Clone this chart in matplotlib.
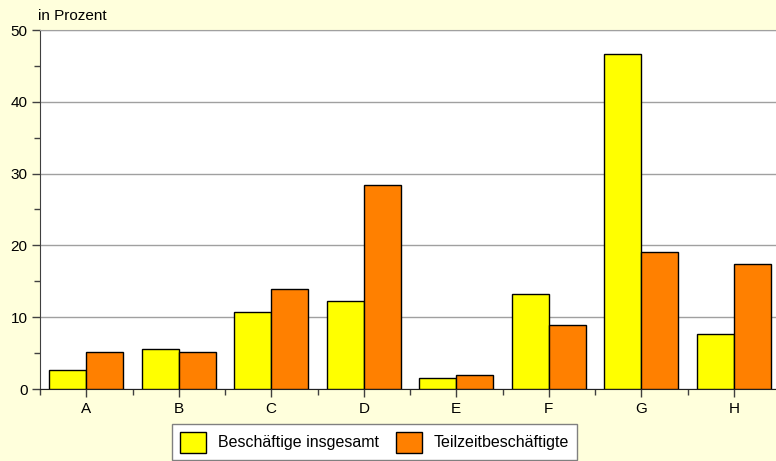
import numpy as np
import matplotlib.pyplot as plt
from matplotlib.ticker import MultipleLocator, FixedLocator

plt.rcParams['font.family'] = ['Liberation Sans', 'DejaVu Sans']

categories = ['A', 'B', 'C', 'D', 'E', 'F', 'G', 'H']
insgesamt = [2.6, 5.6, 10.7, 12.2, 1.6, 13.2, 46.6, 7.6]
teilzeit = [5.2, 5.1, 13.9, 28.4, 1.9, 8.9, 19.1, 17.4]
labels = ['Beschäftige insgesamt', 'Teilzeitbeschäftigte']

bg = '#ffffdc'
fig = plt.figure(figsize=(7.76, 4.61), dpi=100, facecolor=bg)
ax = fig.add_axes([40 / 776, 72 / 461, 740 / 776, 359 / 461])

x = np.arange(len(categories))
w = 0.4
ax.bar(x - w / 2, insgesamt, w, color='#ffff00', edgecolor='black', linewidth=1,
       label=labels[0], zorder=3)
ax.bar(x + w / 2, teilzeit, w, color='#ff8000', edgecolor='black', linewidth=1,
       label=labels[1], zorder=3)

ax.set_xlim(-0.5, 7.5)
ax.set_ylim(0, 50)
ax.set_xticks(x)
ax.set_xticklabels(categories)
ax.xaxis.set_minor_locator(FixedLocator(np.arange(-0.5, 8, 1)))
ax.yaxis.set_major_locator(MultipleLocator(10))
ax.yaxis.set_minor_locator(MultipleLocator(5))
ax.tick_params(axis='both', which='major', labelsize=11, length=6, width=1,
               color='#404040', pad=3)
ax.tick_params(axis='both', which='minor', length=4, width=1, color='#404040')
ax.grid(axis='y', which='major', color='#a0a0a0', linewidth=1, zorder=0)

ax.spines['right'].set_visible(False)
ax.spines['top'].set_color('#a0a0a0')
ax.spines['left'].set_color('#404040')
ax.spines['bottom'].set_color('#202020')

fig.text(38 / 776, 1 - 16 / 461, 'in Prozent', fontsize=11, va='center', ha='left')

leg = fig.legend(loc='upper left', bbox_to_anchor=(172 / 776, 1 - 424 / 461),
                 ncol=2, fontsize=11.5, frameon=True, fancybox=False,
                 edgecolor='#808080', facecolor='white', framealpha=1,
                 handlelength=1.6, handleheight=1.6, handletextpad=0.75,
                 columnspacing=1.1, borderpad=0.5, borderaxespad=0)
leg.get_frame().set_linewidth(1)

fig.savefig('out.png', dpi=100, facecolor=bg)
